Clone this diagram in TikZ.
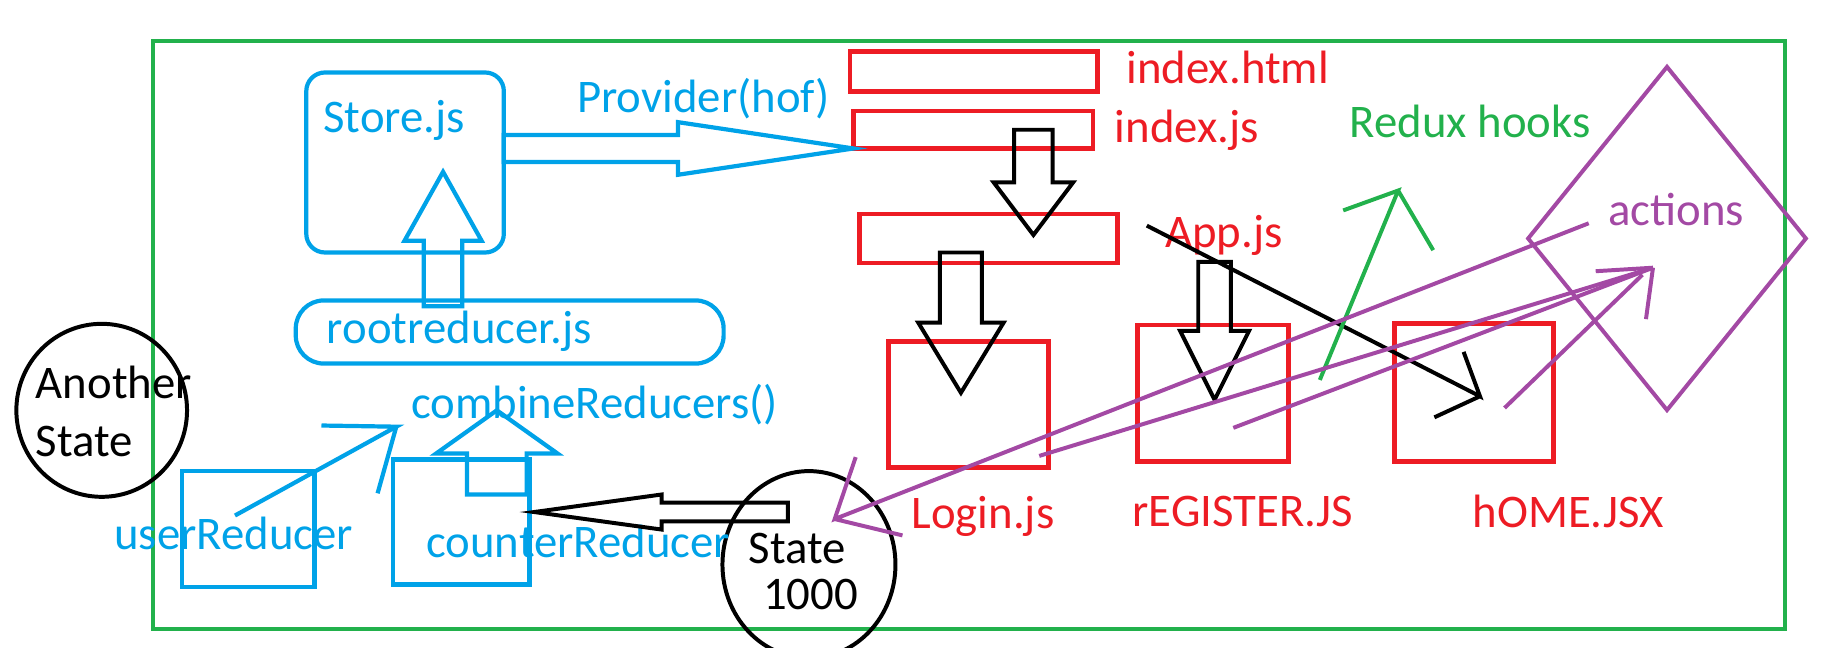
\documentclass[tikz,border=0pt]{standalone}
\usepackage{fontspec}
\setmainfont{Carlito}
\usetikzlibrary{shapes.geometric,fit,calc}

\definecolor{paintblue}{RGB}{0,162,232}
\definecolor{paintred}{RGB}{237,28,36}
\definecolor{paintgreen}{RGB}{34,177,76}
\definecolor{paintpurple}{RGB}{163,73,164}

% hollow block arrow: [style]{tail}{tip}{shaft half width}{head half width}{head length}
\newcommand{\blockarrow}[6][]{%
  \coordinate (ba-base) at ($(#3)!#6!(#2)$);
  \draw[#1] ($(#2)!#4!90:(#3)$) -- ($(ba-base)!#4!90:(#3)$) -- ($(ba-base)!#5!90:(#3)$)
    -- (#3) -- ($(ba-base)!#5!-90:(#3)$) -- ($(ba-base)!#4!-90:(#3)$) -- ($(#2)!#4!-90:(#3)$) -- cycle;}

\begin{document}
\begin{tikzpicture}[x=1pt, y=-1pt, line width=3.4pt,
    every node/.style={anchor=base west, inner sep=0pt, font=\fontsize{40}{49}\selectfont},
    box/.style={draw, anchor=center, inner sep=0pt, outer sep=0pt},
    bluebox/.style={box, draw=paintblue, line width=3.6pt},
    redbox/.style={box, draw=paintred, line width=4pt},
    bluearrow/.style={draw=paintblue, line width=3.6pt},
    blackarrow/.style={draw=black},
    purpleline/.style={draw=paintpurple}]
  \useasboundingbox (0,0) rectangle (1568,554);

  \node[box, draw=paintgreen, line width=3pt, fit={(131,35) (1527,538)}] (frame) {};

  \node[bluebox, rounded corners=16pt, fit={(262,62) (431,216)}] (store) {};
  \node[bluebox, rounded corners=24pt, fit={(253,257) (619,311)}] (rootred) {};
  \node[bluebox, fit={(156,403) (269,502)}] (userred) {};
  \node[bluebox, fit={(336,393) (453,500)}] (counterred) {};

  \node[draw, ellipse, anchor=center, minimum width=146, minimum height=148] (another) at (87,351) {};
  \node[draw, ellipse, anchor=center, minimum width=148, minimum height=160] (state) at (692,483) {};

  \node[redbox, fit={(727,44) (939,78)}] (idxhtml) {};
  \node[redbox, fit={(730,95) (935,127)}] (idxjs) {};
  \node[redbox, fit={(735,183) (956,225)}] (app) {};
  \node[redbox, fit={(760,292) (897,400)}] (login) {};
  \node[redbox, fit={(973,278) (1102,395)}] (register) {};
  \node[redbox, fit={(1193,277) (1329,395)}] (home) {};

  \node[draw=paintpurple, diamond, anchor=center, minimum width=239, minimum height=295] (actions) at (1426,204) {};

  \node[text=paintblue] (storelbl) at (275,113) {Store.js};
  \node[text=paintblue] (providerlbl) at (492,96) {Provider(hof)};
  \node[text=paintblue] (rootlbl) at (278,294) {rootreducer.js};
  \node[text=paintblue] (combinelbl) at (350,358) {combineReducers()};
  \node[text=paintblue] (userlbl) at (96,470) {userReducer};
  \node[text=paintblue] (counterlbl) at (363,477) {counterReducer};
  \node[align=left, anchor=west] (anotherlbl) at (29,352) {Another\\State};
  \node[align=left, anchor=west, font=\fontsize{40}{39}\selectfont] (statelbl) at (639,489) {State\\\hspace*{12pt}1000};
  \node[text=paintred] (idxhtmllbl) at (962,71) {index.html};
  \node[text=paintred] (idxjslbl) at (952,122) {index.js};
  \node[text=paintred] (applbl) at (995,212) {App.js};
  \node[text=paintred] (loginlbl) at (778,452) {Login.js};
  \node[text=paintred] (registerlbl) at (967,450) {rEGISTER.JS};
  \node[text=paintred] (homelbl) at (1258,451) {hOME.JSX};
  \node[text=paintgreen] (hookslbl) at (1153,118) {Redux hooks};
  \node[text=paintpurple] (actionslbl) at (1374,193) {actions};

  \coordinate (prov-tail) at (store.east |- idxjs.south west);
  \coordinate (root-out) at (379,262);
  \coordinate (store-in) at (379,147);
  \coordinate (counter-out) at (425,423);
  \coordinate (combine-in) at (425,351);
  \coordinate (state-out) at (674,438);
  \coordinate (counter-in) at (457,438);
  \coordinate (idxjs-out) at (884,111);
  \coordinate (app-in) at (884,201);
  \coordinate (app-out1) at (822,216);
  \coordinate (login-in) at (822,336);
  \coordinate (app-out2) at (1039,224);
  \coordinate (register-in) at (1039,342);

  \blockarrow[bluearrow]{prov-tail}{idxjs.south west}{11.5pt}{22.5pt}{150pt}
  \blockarrow[bluearrow]{root-out}{store-in}{16.5pt}{33pt}{59pt}
  \blockarrow[bluearrow]{counter-out}{combine-in}{25.5pt}{52pt}{37pt}
  \blockarrow[blackarrow]{state-out}{counter-in}{8pt}{15pt}{109pt}
  \blockarrow[blackarrow]{idxjs-out}{app-in}{16.5pt}{34pt}{45pt}
  \blockarrow[blackarrow]{app-out1}{login-in}{18pt}{36.5pt}{60pt}
  \blockarrow[blackarrow]{app-out2}{register-in}{14pt}{29.5pt}{59pt}

  \coordinate (user-src) at (201,441);
  \coordinate (combine-tip) at (339,365);
  \draw[paintblue, line width=3.6pt] (user-src) -- (combine-tip) -- ++(-64,-1) (combine-tip) -- ++(-16,57);

  \coordinate (app-src) at (981,193);
  \coordinate (home-tip) at (1266,339);
  \draw (app-src) -- (home-tip) -- ++(-14,-38) (home-tip) -- ++(-39,18);

  \coordinate (register-src) at (1129,325);
  \coordinate (hooks-tip) at (1196,163);
  \draw[paintgreen] (register-src) -- (hooks-tip) -- ++(-47,17) (hooks-tip) -- ++(30,51);

  \coordinate (actions-src) at (1359,191);
  \coordinate (state-tip) at (714,444);
  \draw[purpleline] (actions-src) -- (state-tip) -- ++(18,-53) (state-tip) -- ++(58,14);

  \coordinate (login-src) at (889,390);
  \coordinate (register-src2) at (1055,366);
  \coordinate (home-src) at (1287,349);
  \coordinate (actions-tip) at (1414,229);
  \draw[purpleline] (login-src) -- (actions-tip);
  \draw[purpleline] (register-src2) -- (actions-tip);
  \draw[purpleline] (home-src) -- (1405,235);
  \draw[purpleline] (actions-tip) -- ++(-49,3) (actions-tip) -- ++(-6,44);
\end{tikzpicture}
\end{document}
